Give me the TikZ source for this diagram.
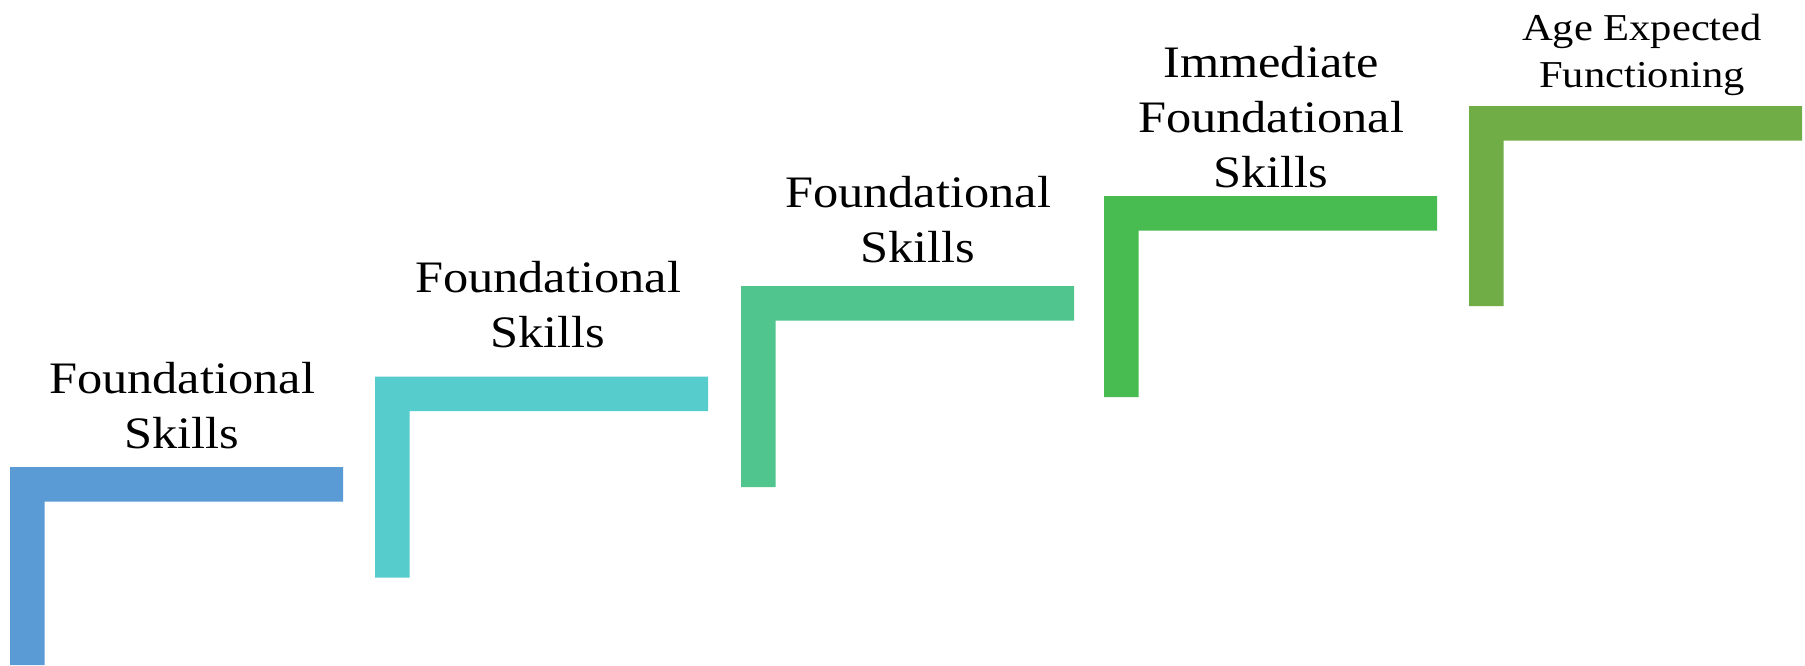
\documentclass[tikz,border=0pt]{standalone}
\usepackage{fontspec}
\setmainfont[FakeStretch=1.12]{Liberation Serif}
\definecolor{cA}{HTML}{5B9BD5}
\definecolor{cB}{HTML}{56CCCD}
\definecolor{cC}{HTML}{50C68E}
\definecolor{cD}{HTML}{48BC50}
\definecolor{cE}{HTML}{70AD47}
\tikzset{
  lab/.style={align=center, inner sep=0pt, anchor=base, font={\fontsize{45}{55}\selectfont}},
  labsmall/.style={align=center, inner sep=0pt, anchor=base, font={\fontsize{38}{47}\selectfont}},
}
\newcommand{\stepL}[4]{% color, x0, y0, height
  \fill[#1] (#2,#3) -- ++(333,0) -- ++(0,34.5) -- ++(-298.5,0) -- ++(0,#4-34.5) -- ++(-34.5,0) -- cycle;
}
\begin{document}
\begin{tikzpicture}[x=1pt,y=-1pt]
\useasboundingbox[fill=white] (0,0) rectangle (1805,665);
\stepL{cA}{10}{467}{198}
\stepL{cB}{375}{376.5}{201}
\stepL{cC}{741}{286}{201}
\stepL{cD}{1104}{196}{201}
\stepL{cE}{1469}{106}{200}
\node[lab] (t1) at (182,448) {Foundational\\Skills};
\node[lab] (t2) at (548,347) {Foundational\\Skills};
\node[lab] (t3) at (918,262) {Foundational\\Skills};
\node[lab] (t4) at (1271,187) {Immediate\\Foundational\\Skills};
\node[labsmall] (t5) at (1642,87) {Age Expected\\Functioning};
\end{tikzpicture}
\end{document}
